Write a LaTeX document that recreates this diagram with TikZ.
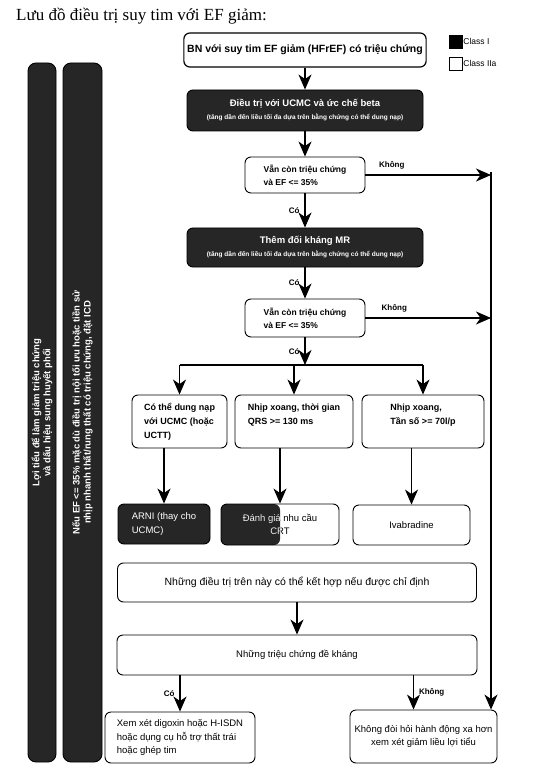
\documentclass[tikz,border=0pt]{standalone}
\usepackage{fontspec}
\setmainfont{Liberation Serif}
\setsansfont{Liberation Sans}
\usetikzlibrary{arrows.meta}

\tikzset{
  flowbox/.style={draw, rounded corners=6pt, line width=0.9pt, fill=white, align=center,
    font=\sffamily\bfseries\fontsize{8.5}{13}\selectfont},
  darkbox/.style={flowbox, fill=black!85, text=white, font=\sffamily\bfseries\fontsize{9.5}{13}\selectfont},
  plainbox/.style={flowbox, font=\sffamily\fontsize{9.5}{13.5}\selectfont},
  darkplain/.style={plainbox, fill=black!85, text=white},
  condbox/.style={flowbox, align=left, minimum height=53, font=\sffamily\bfseries\fontsize{9}{14}\selectfont},
  sidebar/.style={draw, rotate=90, rounded corners=8pt, line width=0.9pt, fill=black!85, text=white,
    align=center, inner sep=1pt, font=\sffamily\bfseries\fontsize{9.5}{11}\selectfont},
  arrow/.style={-{Stealth[length=15pt,width=13pt,inset=4.5pt]}, line width=1.1pt},
  lbl/.style={font=\sffamily\bfseries\fontsize{8}{10}\selectfont, inner sep=1pt}
}

\begin{document}
\begin{tikzpicture}[x=1pt, y=-1pt]
    \useasboundingbox (0,0) rectangle (548,775);

    \node[anchor=base west, inner sep=0, font=\fontsize{17}{19}\selectfont] (title) at (16,21) {Lưu đồ điều trị suy tim với EF giảm:};

    % legend
    \node[draw, fill=black, minimum size=13, inner sep=0] (classone) at (455.5,41.5) {};
    \node[lbl, font=\sffamily\fontsize{8.5}{10}\selectfont, anchor=west] (classonetxt) at (classone.east) {Class I};
    \node[draw, fill=white, minimum size=13, inner sep=0] (classtwo) at (455.5,63.5) {};
    \node[lbl, font=\sffamily\fontsize{8.5}{10}\selectfont, anchor=west] (classtwotxt) at (classtwo.east) {Class IIa};

    % side bars
    \node[sidebar, minimum width=699, minimum height=28] (diuretic) at (42,412.5)
        {Lợi tiểu để làm giảm triệu chứng\\và dấu hiệu sung huyết phổi};
    \node[sidebar, minimum width=699, minimum height=39] (icd) at (82.5,412.5)
        {Nếu EF <= 35\% mặc dù điều trị nội tối ưu hoặc tiền sử\\nhịp nhanh thất/rung thất có triệu chứng, đặt ICD};

    % main column
    \node[flowbox, line width=1.2pt, minimum width=238, minimum height=34,
        font=\sffamily\bfseries\fontsize{10.5}{13}\selectfont] (start) at (305,50)
        {BN với suy tim EF giảm (HFrEF) có triệu chứng};
    \node[darkbox, minimum width=236, minimum height=41] (ucmc) at (305,110.5)
        {Điều trị với UCMC và ức chế beta\\{\fontsize{6.5}{8}\selectfont (tăng dần đến liều tối đa dựa trên bằng chứng có thể dung nạp)}};
    \node[flowbox, align=left, minimum width=120, minimum height=36] (checka) at (305,175)
        {Vẫn còn triệu chứng\\và EF <= 35\%};
    \node[darkbox, minimum width=236, minimum height=39] (mra) at (305,247.5)
        {Thêm đối kháng MR\\{\fontsize{6.5}{8}\selectfont (tăng dần đến liều tối đa dựa trên bằng chứng có thể dung nạp)}};
    \node[flowbox, align=left, minimum width=120, minimum height=38] (checkb) at (305,318)
        {Vẫn còn triệu chứng\\và EF <= 35\%};
    \coordinate (split) at (305,365);

    \node[condbox, minimum width=95] (tolerant) at (179.5,421.5) {Có thể dung nạp\\với UCMC (hoặc\\UCTT)};
    \node[condbox, minimum width=118] (qrs) at (294,421.5) {Nhịp xoang, thời gian\\QRS >= 130 ms\\\mbox{}};
    \node[condbox, minimum width=122] (rate) at (423,421.5) {Nhịp xoang,\\Tần số >= 70l/p\\\mbox{}};

    \node[darkplain, align=left, minimum width=92, minimum height=40] (arni) at (164,524) {ARNI (thay cho\\UCMC)};
    \node[plainbox, minimum width=118, minimum height=41,
        path picture={\fill[black!85] (path picture bounding box.south west) rectangle (path picture bounding box.north);}]
        (crt) at (280,524.5) {Đánh giá nhu cầu\\CRT};
    \begin{scope}
        \clip (crt.south west) rectangle (crt.north);
        \node[plainbox, draw=none, fill=none, text=white, minimum width=118, minimum height=41] (crtwhite) at (crt.center) {Đánh giá nhu cầu\\CRT};
    \end{scope}
    \node[plainbox, minimum width=117, minimum height=40] (ivab) at (411.5,525) {Ivabradine};

    \node[plainbox, minimum width=359, minimum height=39, font=\sffamily\fontsize{10.5}{13}\selectfont] (combine) at (297,582.5)
        {Những điều trị trên này có thể kết hợp nếu được chỉ định};
    \node[plainbox, minimum width=360, minimum height=40] (refractory) at (297,655)
        {Những triệu chứng đề kháng};
    \node[plainbox, align=left, minimum width=150, minimum height=51] (digoxin) at (180,737.5)
        {Xem xét digoxin hoặc H-ISDN\\hoặc dụng cụ hỗ trợ thất trái\\hoặc ghép tim};
    \node[plainbox, minimum width=147, minimum height=53, inner xsep=1pt] (nofurther) at (423.5,736.5)
        {Không đòi hỏi hành động xa hơn\\xem xét giảm liều lợi tiểu};

    \coordinate (rtop) at (491,172);
    \coordinate (noin) at ([xshift=-10pt]nofurther.north);

    % connectors
    \draw[arrow] (start) -- (ucmc);
    \draw[arrow] (ucmc) -- (checka);
    \draw[arrow] (checka) -- node[lbl, left=4pt] (yesa) {Có} (mra);
    \draw[arrow] (mra) -- node[lbl, left=4pt] (yesb) {Có} (checkb);
    \draw[arrow] (checkb) -- node[lbl, left=4pt] (yesc) {Có} (split);
    \draw[arrow] (checka.east) -- node[lbl, pos=0.21, above=4pt] (noa) {Không} (checka.east -| rtop);
    \draw[arrow] (checkb.east) -- node[lbl, pos=0.23, above=4pt] (nob) {Không} (checkb.east -| rtop);
    \draw[line width=1.1pt] (split -| tolerant.north) -- (split -| rate.north);
    \draw[arrow] (split -| tolerant.north) -- (tolerant.north);
    \draw[arrow] (split -| qrs.north) -- (qrs.north);
    \draw[arrow] (split -| rate.north) -- (rate.north);

    \draw[arrow] (tolerant.south -| arni.north) -- (arni.north);
    \draw[arrow] (qrs.south -| crt.north) -- (crt.north);
    \draw[arrow] (rate.south -| ivab.north) -- (ivab.north);

    \draw[arrow] (combine) -- (refractory);
    \draw[arrow] (refractory.south -| digoxin.north) -- node[lbl, left=4pt] (yesd) {Có} (digoxin.north);
    \draw[arrow] (refractory.south -| noin) -- node[lbl, right=4pt] (nod) {Không} (noin);
    \draw[arrow] (rtop) -- (rtop |- nofurther.north);
\end{tikzpicture}
\end{document}
